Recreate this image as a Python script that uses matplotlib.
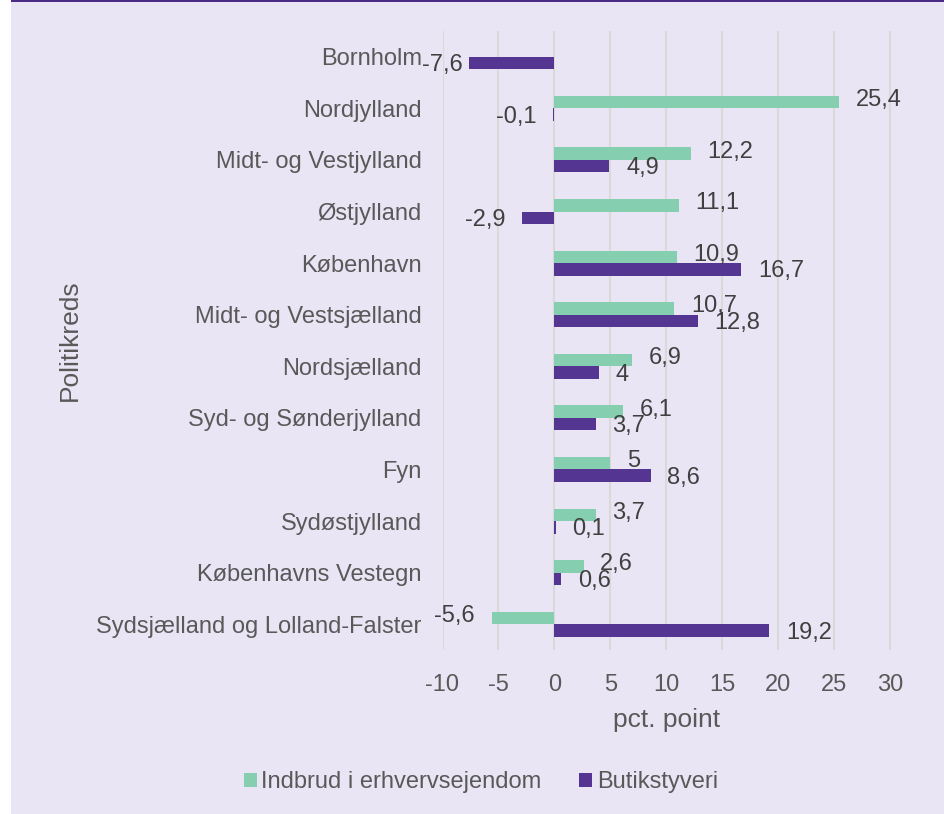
import numpy as np
import matplotlib.pyplot as plt
from matplotlib.patches import Rectangle, Patch

plt.rcParams['font.family'] = ['Liberation Sans', 'DejaVu Sans']

# data (top to bottom as in the chart)
kredse = ['Bornholm', 'Nordjylland', 'Midt- og Vestjylland', 'Østjylland',
          'København', 'Midt- og Vestsjælland', 'Nordsjælland',
          'Syd- og Sønderjylland', 'Fyn', 'Sydøstjylland',
          'Københavns Vestegn', 'Sydsjælland og Lolland-Falster']
indbrud = [np.nan, 25.4, 12.2, 11.1, 10.9, 10.7, 6.9, 6.1, 5.0, 3.7, 2.6, -5.6]
butik = [-7.6, -0.1, 4.9, -2.9, 16.7, 12.8, 4.0, 3.7, 8.6, 0.1, 0.6, 19.2]
xticks = [-10, -5, 0, 5, 10, 15, 20, 25, 30]

green = '#86CEB0'
purple = '#553592'
bg = '#E9E5F4'
tick_col = '#595959'
lab_col = '#404040'

W, H = 944, 814
fig = plt.figure(figsize=(W / 100, H / 100), dpi=100)
fig.patch.set_facecolor('white')
# lavender panel with purple line on top
fig.patches.append(Rectangle((11 / W, 0), 1, 1, transform=fig.transFigure,
                             facecolor=bg, edgecolor='none', zorder=-10))
fig.patches.append(Rectangle((11 / W, 1 - 2 / H), 1, 2 / H, transform=fig.transFigure,
                             facecolor='#4B2A86', edgecolor='none', zorder=-9))

ax = fig.add_axes([442.5 / W, 1 - 650 / H, 449 / W, 619 / H])
ax.set_facecolor('none')

y = np.arange(len(kredse))
h = 0.242
ax.barh(y - h / 2, indbrud, height=h, color=green, zorder=3)
ax.barh(y + h / 2, butik, height=h, color=purple, zorder=3)

def fmt(v):
    return ('%g' % v).replace('.', ',')

for i in range(len(kredse)):
    for vals, off, dy in ((indbrud, -h / 2, 1.5), (butik, h / 2, -1.5)):
        v = vals[i]
        if np.isnan(v):
            continue
        pad = 12
        if i == 0:
            pad = 5  # Bornholm label squeezed in
        ax.annotate(fmt(v), (v, y[i] + off), xytext=(pad if v >= 0 else -pad, dy),
                    textcoords='offset points', ha='left' if v >= 0 else 'right',
                    va='center', fontsize=17, color=lab_col, zorder=5)

ax.set_xlim(-10, 30.1)
ax.set_ylim(len(kredse) - 0.5, -0.5)
ax.set_xticks(xticks)
ax.set_xticklabels([str(t) for t in xticks])
ax.set_yticks(y)
ax.set_yticklabels(kredse)
ax.tick_params(axis='both', length=0, labelsize=17, labelcolor=tick_col)
ax.tick_params(axis='y', pad=15)
ax.tick_params(axis='x', pad=17)
ax.grid(axis='x', color='#D9D9D9', linewidth=1.5, zorder=0)
for s in ax.spines.values():
    s.set_visible(False)

fig.text(667 / W, 1 - 720 / H, 'pct. point', ha='center', va='center',
         fontsize=19, color=tick_col)
fig.text(70 / W, 1 - 340 / H, 'Politikreds', ha='center', va='center',
         rotation=90, fontsize=19, color=tick_col)

handles = [Patch(facecolor=green, label='Indbrud i erhvervsejendom'),
           Patch(facecolor=purple, label='Butikstyveri')]
leg = fig.legend(handles=handles, loc='center', bbox_to_anchor=(481 / W, 1 - 782 / H),
                 ncol=2, frameon=False, fontsize=17, handlelength=0.55,
                 handleheight=0.55, handletextpad=0.2, columnspacing=1.6)
for t in leg.get_texts():
    t.set_color(tick_col)

fig.savefig('out.png', dpi=100, facecolor=fig.get_facecolor())
